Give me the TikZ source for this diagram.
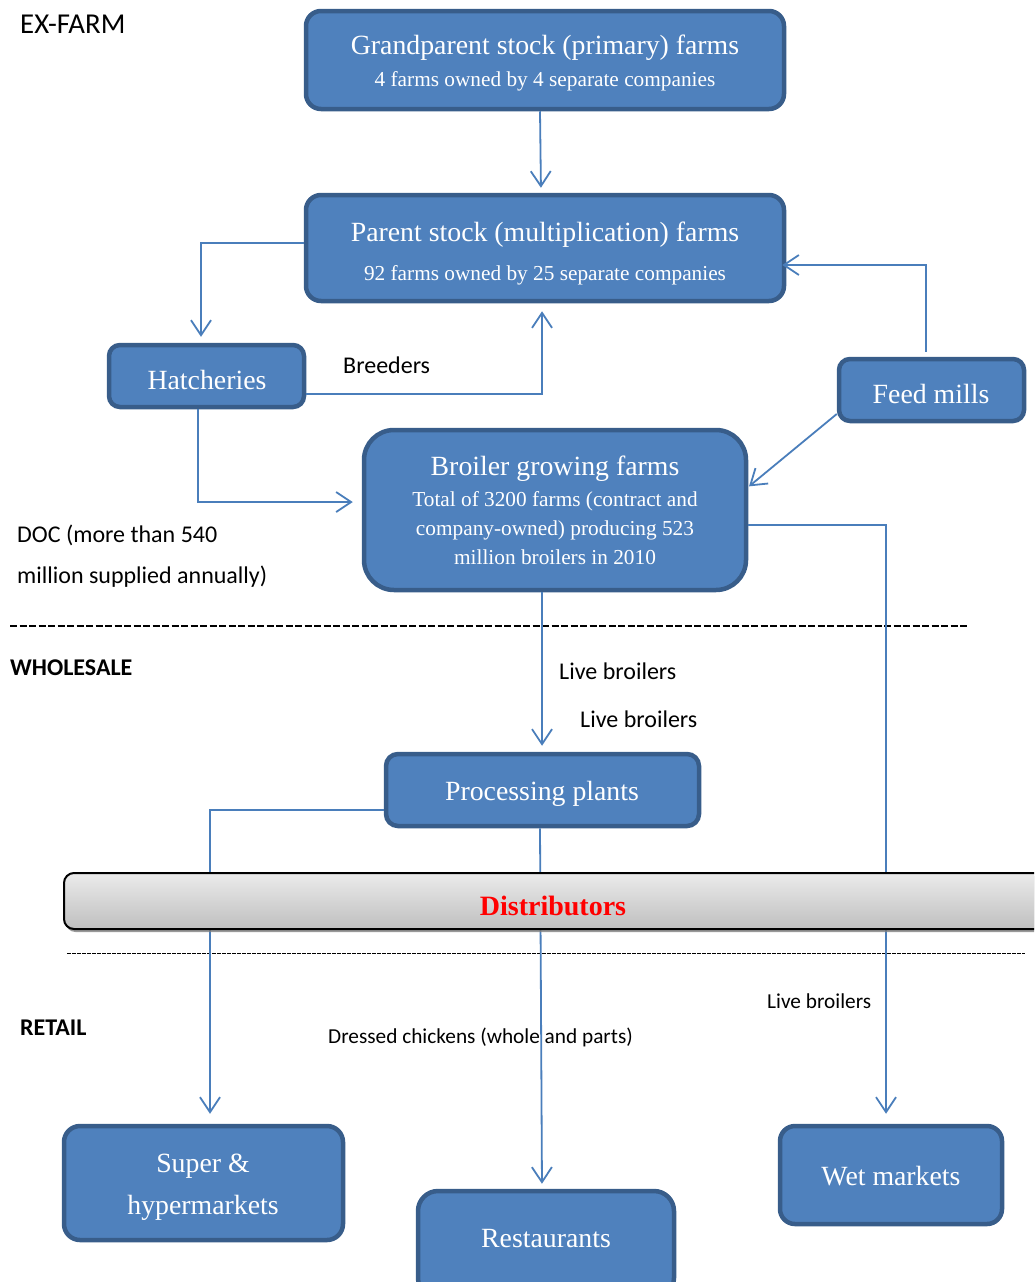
\documentclass[tikz,border=0pt]{standalone}
\usepackage{fontspec}
\setmainfont{Liberation Serif}
\newfontfamily\calfont{Carlito}
\usetikzlibrary{arrows.meta,shadows}
\definecolor{boxfill}{HTML}{4F81BD}
\definecolor{boxline}{HTML}{385D8A}
\definecolor{connc}{HTML}{4A7EBB}
\definecolor{distred}{HTML}{FF0000}
\definecolor{disttop}{HTML}{EBEBEB}
\definecolor{distbot}{HTML}{BFBFBF}
\begin{document}
\begin{tikzpicture}[x=1pt,y=-1pt,
  bluebox/.style={draw=boxline, line width=4.5pt, fill=boxfill, text=white,
    rounded corners=15pt, inner sep=0pt},
  ttl/.style={font=\fontsize{27.8}{32}\selectfont, text=white, anchor=base, inner sep=0pt},
  subt/.style={font=\fontsize{21.3}{25}\selectfont, text=white, anchor=base, inner sep=0pt},
  lbl/.style={font=\calfont\fontsize{24}{28}\selectfont, anchor=base west, inner sep=0pt},
  smlbl/.style={font=\calfont\fontsize{21.3}{25}\selectfont, anchor=base west, inner sep=0pt},
  conn/.style={draw=connc, line width=1.8pt, -{Straight Barb[length=15pt,width=20pt]}},
  distbox/.style={draw=black, line width=2pt, rounded corners=10pt, top color=disttop,
    bottom color=distbot, inner sep=0pt,
    drop shadow={shadow xshift=1.5pt, shadow yshift=-3pt, fill=gray, opacity=0.8}},
  dash1/.style={draw=black, line width=1.6pt, dash pattern=on 7pt off 2.5pt},
  dash2/.style={draw=black, line width=0.8pt, dash pattern=on 3.5pt off 1.5pt}
]
\useasboundingbox (0,0) rectangle (1034,1282);
\clip (0,0) rectangle (1034,1282);

% boxes
\node[bluebox, minimum width=478pt, minimum height=98pt] (gp) at (545,60) {};
\node[ttl] (gpt) at (545,54) {Grandparent stock (primary) farms};
\node[subt] (gps) at (545,86) {4 farms owned by 4 separate companies};

\node[bluebox, minimum width=478pt, minimum height=106pt] (ps) at (545,248) {};
\node[ttl] (pst) at (545,241) {Parent stock (multiplication) farms};
\node[subt] (pss) at (545,280) {92 farms owned by 25 separate companies};

\node[bluebox, rounded corners=11pt, minimum width=195pt, minimum height=62pt] (hat) at (206.5,376) {};
\node[ttl] (hatt) at (207,389) {Hatcheries};
\node[bluebox, rounded corners=11pt, minimum width=185pt, minimum height=62pt] (feed) at (931.5,390) {};
\node[ttl] (feedt) at (931,403) {Feed mills};

\node[bluebox, rounded corners=30pt, minimum width=382pt, minimum height=160pt] (broiler) at (555,510) {};
\node[ttl] (brt) at (555,475) {Broiler growing farms};
\node[subt] (brs1) at (555,506) {Total of 3200 farms (contract and};
\node[subt] (brs2) at (555,535) {company-owned) producing 523};
\node[subt] (brs3) at (555,564) {million broilers in 2010};

\node[bluebox, rounded corners=12pt, minimum width=313pt, minimum height=72pt] (proc) at (542.5,790) {};
\node[ttl] (proct) at (542,800) {Processing plants};

\node[bluebox, rounded corners=16pt, minimum width=279pt, minimum height=114pt] (super) at (203.5,1183) {};
\node[ttl] (supt1) at (203,1172) {Super \&};
\node[ttl] (supt2) at (203,1214) {hypermarkets};

\node[bluebox, rounded corners=20pt, minimum width=256pt, minimum height=107pt] (rest) at (546,1244.5) {};
\node[ttl] (restt) at (546,1247) {Restaurants};
\node[bluebox, rounded corners=15pt, minimum width=222pt, minimum height=98pt] (wet) at (891,1175) {};
\node[ttl] (wett) at (891,1185) {Wet markets};

% labels
\node[lbl, font=\calfont\fontsize{28.8}{32}\selectfont] (exfarm) at (20,33) {EX-FARM};
\node[lbl] (breed) at (343,373) {Breeders};
\node[lbl] (doc1) at (17,542) {DOC (more than 540};
\node[lbl] (doc2) at (17,583) {million supplied annually)};
\node[lbl, font=\calfont\bfseries\fontsize{24}{28}\selectfont] (whole) at (10,675) {WHOLESALE};
\node[lbl] (lb1) at (559,679) {Live broilers};
\node[lbl] (lb2) at (580,727) {Live broilers};
\node[lbl, font=\calfont\bfseries\fontsize{24}{28}\selectfont] (retail) at (20,1035) {RETAIL};
\node[smlbl] (lb3) at (767,1008) {Live broilers};
\node[smlbl] (dressed) at (328,1043) {Dressed chickens (whole and parts)};

% dashed separators
\draw[dash1] (10,626) -- (968,626);
\draw[dash2] (67,953) -- (1025,953);

% connectors
\draw[conn, shorten >=5pt] ([xshift=-5pt]gp.south) -- ([xshift=-4pt]ps.north);
\draw[conn, shorten >=6pt] ([yshift=5pt]ps.west) -| ([xshift=-5.5pt]hat.north);
\draw[conn, shorten >=8pt] ([yshift=-18pt]hat.east) -| ([xshift=-3pt]ps.south);
\draw[conn, shorten <=5pt, shorten >=-4pt] ([xshift=-5.5pt]feed.north) |- ([yshift=-17pt]ps.east);
\draw[conn, shorten >=1pt] ([yshift=-24pt]feed.west) -- ([yshift=23pt]broiler.east);
\draw[conn, shorten >=9pt] ([xshift=-8.5pt]hat.south) |- ([yshift=8pt]broiler.west);
\draw[conn, shorten >=6pt] ([xshift=-13pt]broiler.south) -- ([xshift=-0.5pt]proc.north);
\draw[conn, shorten >=10pt] ([yshift=-15pt]broiler.east) -| ([xshift=-5pt]wet.north);
\draw[conn, shorten >=10pt] ([yshift=-20pt]proc.west) -| ([xshift=6.5pt]super.north);
\draw[conn, shorten >=5pt] ([xshift=-2.5pt]proc.south) -- ([xshift=-4pt]rest.north);

% distributors bar (drawn over the connectors)
\node[distbox, minimum width=985pt, minimum height=56pt] (dist) at (556.5,901) {};
\node[font=\bfseries\fontsize{28}{32}\selectfont, text=distred, anchor=base, inner sep=0pt] (distt) at (553,915) {Distributors};
\end{tikzpicture}
\end{document}
